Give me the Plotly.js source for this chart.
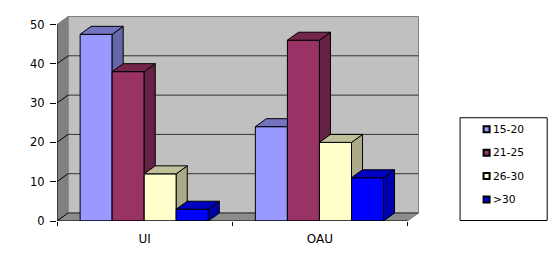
<!DOCTYPE html>
<html><head><meta charset="utf-8">
<script src="https://cdn.plot.ly/plotly-3.0.1.min.js"></script>
<style>html,body{margin:0;padding:0;background:#fff}</style></head>
<body><div id="chart" style="width:556px;height:255px"></div>
<script>
const categories = ['UI', 'OAU'];
const seriesNames = ['15-20', '21-25', '26-30', '>30'];
const v1520 = [47.5, 24];
const v2125 = [38, 46];
const v2630 = [12, 20];
const vOver30 = [3, 11];
const yTicks = [0, 10, 20, 30, 40, 50];
const frontColors = ['#9999FF', '#993366', '#FFFFCC', '#0000FF'];
const topColors = ['#7373C0', '#732649', '#BFBF99', '#0000BF'];
const sideColors = ['#6666AA', '#662244', '#AAAA88', '#0000AA'];
const seriesValues = [v1520, v2125, v2630, vOver30];

const pxX = 175, pxY = 3.94;
const depthX = 11 / pxX, depthY = 8 / pxY;
const barW = 32 / pxX;
const catX = categories.map((c, i) => i);
const xMin = -0.5, xFront = 1.5, xMax = xFront + depthX + 1.5 / pxX;
const yMax = 50 + depthY + 1.5 / pxY;
const mL = 57, mB = 34;
const plotW = (xMax - xMin) * pxX, plotH = yMax * pxY;

const traces = [];
seriesValues.forEach((vals, s) => {
  const suffix = s === 0 ? '' : String(s + 1);
  const xa = 'x' + suffix, ya = 'y' + suffix;
  const xs = catX.map(c => c + (s - 1.5) * barW - 0.4 / pxX);
  traces.push({type: 'bar', name: seriesNames[s], x: xs, y: vals, width: barW, xaxis: xa, yaxis: ya,
    marker: {color: frontColors[s], line: {color: '#000', width: 1}}, cliponaxis: false, showlegend: false, hoverinfo: 'y'});
  const tx = [], ty = [], sx = [], sy = [];
  xs.forEach((x, i) => {
    const l = x - barW / 2, r = x + barW / 2, v = vals[i];
    tx.push(l, l + depthX, r + depthX, r, l, null);
    ty.push(v, v + depthY, v + depthY, v, v, null);
    sx.push(r, r + depthX, r + depthX, r, r, null);
    sy.push(v, v + depthY, depthY, 0, v, null);
  });
  const face = (x, y, c) => ({type: 'scatter', mode: 'lines', x, y, xaxis: xa, yaxis: ya, fill: 'toself', fillcolor: c,
    line: {color: '#000', width: 1}, cliponaxis: false, showlegend: false, hoverinfo: 'skip'});
  traces.push(face(sx, sy, sideColors[s]));
  traces.push(face(tx, ty, topColors[s]));
});
// front axis lines
traces.push({type: 'scatter', mode: 'lines', x: [xMin, xMin, null, xMin, xFront], y: [50, 0, null, 0, 0],
  xaxis: 'x4', yaxis: 'y4', line: {color: '#000', width: 1}, cliponaxis: false, showlegend: false, hoverinfo: 'skip'});

const poly = (pts, fill, line) => ({type: 'path', xref: 'x', yref: 'y', layer: 'below',
  path: 'M' + pts.map(p => p[0] + ',' + p[1]).join('L') + 'Z', fillcolor: fill,
  line: line ? {color: line, width: 1} : {width: 0}});
const shapes = [
  poly([[xMin + depthX, depthY], [xFront + depthX, depthY], [xFront + depthX, 50 + depthY], [xMin + depthX, 50 + depthY]], '#C0C0C0', '#808080'),
  poly([[xMin, 0], [xMin + depthX, depthY], [xMin + depthX, 50 + depthY], [xMin, 50]], '#808080', '#808080'),
  poly([[xMin, 0], [xFront, 0], [xFront + depthX, depthY], [xMin + depthX, depthY]], '#8C8C8C', '#808080')
];
yTicks.forEach(t => {
  if (t < 50) {
    shapes.push({type: 'line', xref: 'x', yref: 'y', layer: 'below', x0: xMin, y0: t, x1: xMin + depthX, y1: t + depthY, line: {color: '#000', width: 1}});
    shapes.push({type: 'line', xref: 'x', yref: 'y', layer: 'below', x0: xMin + depthX, y0: t + depthY, x1: xFront + depthX, y1: t + depthY, line: {color: '#333', width: 1}});
  }
});
// legend: box and swatches
const W = 556, H = 255;
const pX = px => (px - mL) / plotW, pY = py => (H - mB - py) / plotH;
shapes.push({type: 'rect', xref: 'paper', yref: 'paper', x0: pX(459.5), x1: pX(546.5), y0: pY(220.5), y1: pY(117.5), line: {color: '#000', width: 1}, fillcolor: '#fff'});
const legendY = [129, 152.5, 176, 199.5];
const annotations = [];
seriesNames.forEach((n, i) => {
  shapes.push({type: 'rect', xref: 'paper', yref: 'paper', x0: pX(483), x1: pX(489), y0: pY(legendY[i] + 3), y1: pY(legendY[i] - 3),
    fillcolor: frontColors[i], line: {color: '#000', width: 2}});
  annotations.push({xref: 'paper', yref: 'paper', x: pX(491), y: pY(legendY[i]), text: n, showarrow: false, xanchor: 'left', yanchor: 'middle',
    font: {family: 'DejaVu Sans', size: 10.7, color: '#000'}, borderpad: 0});
});

const hidden = {overlaying: 'x', range: [xMin, xMax], visible: false, fixedrange: true};
const hiddenY = {overlaying: 'y', range: [0, yMax], visible: false, fixedrange: true};
const layout = {
  width: W, height: H, autosize: false, showlegend: false, paper_bgcolor: '#fff', plot_bgcolor: 'rgba(0,0,0,0)',
  margin: {l: mL, b: mB, t: H - mB - plotH, r: W - mL - plotW, pad: 0},
  font: {family: 'DejaVu Sans', size: 12, color: '#000'},
  xaxis: {range: [xMin, xMax], tickmode: 'array', tickvals: catX, ticktext: categories, ticks: '', ticklabelstandoff: 9,
    showgrid: false, zeroline: false, showline: false, fixedrange: true, tickfont: {family: 'DejaVu Sans', size: 12}},
  yaxis: {range: [0, yMax], tickmode: 'array', tickvals: yTicks, ticks: 'outside', ticklen: 6, tickcolor: '#000', tickwidth: 1, ticklabelstandoff: 3,
    showgrid: false, zeroline: false, showline: false, fixedrange: true, tickfont: {family: 'DejaVu Sans', size: 11.5}},
  xaxis2: {overlaying: 'x', range: [xMin, xMax], tickmode: 'array', tickvals: [-0.5, 0.5, 1.5], ticks: 'outside', ticklen: 4, tickcolor: '#000', tickwidth: 1,
    showticklabels: false, showgrid: false, zeroline: false, showline: false, fixedrange: true},
  yaxis2: hiddenY, xaxis3: hidden, yaxis3: hiddenY, xaxis4: hidden, yaxis4: hiddenY,
  bargap: 0, shapes, annotations
};
Plotly.newPlot('chart', traces, layout, {displayModeBar: false, staticPlot: true});
</script></body></html>
